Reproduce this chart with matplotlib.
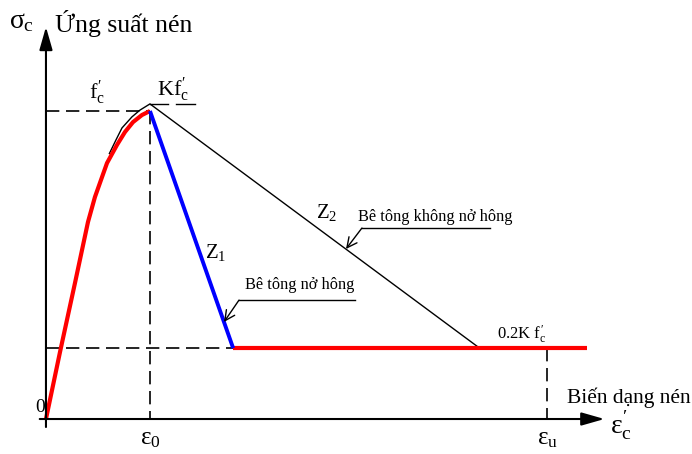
import numpy as np
import matplotlib
matplotlib.use("Agg")
from matplotlib import pyplot as plt

plt.rcParams['font.family'] = ['Liberation Serif', 'DejaVu Serif']
plt.rcParams['mathtext.fontset'] = 'custom'
plt.rcParams['mathtext.rm'] = 'Liberation Serif'
plt.rcParams['mathtext.it'] = 'Liberation Serif'
plt.rcParams['mathtext.bf'] = 'Liberation Serif:bold'

# strain in units of eps0, stress in units of f'c
eps0 = 1.0
eps_u = 4.82
K_peak = 1.023
residual = 0.23

# confined-free ascending branch (red)
asc_eps = [0.0, 0.135, 0.279, 0.404, 0.471, 0.529, 0.587, 0.683, 0.760, 0.837, 0.923, 1.0]
asc_sig = [0.0, 0.2175, 0.4416, 0.6396, 0.7208, 0.776, 0.831, 0.890, 0.932, 0.964, 0.987, 1.0]

# Z1 branch (blue) and residual plateau (red)
z1_eps = [1.0, 1.80]
z1_sig = [1.0, residual]
plateau_eps = [1.80, 5.20]

# unconfined curve reaching K f'c then Z2 descending line (black)
blk_eps = [0.610, 0.673, 0.731, 0.827, 0.904, 0.952, 1.0, 4.17]
blk_sig = [0.862, 0.906, 0.945, 0.981, 1.003, 1.013, K_peak, residual]

fig = plt.figure(figsize=(6.92, 4.54), dpi=100)
ax = fig.add_axes([0, 0, 1, 1])
ax.set_xlim(-0.442, 6.212)
ax.set_ylim(-0.1136, 1.3604)
ax.axis('off')

# axes with arrows
arrow_style = '-|>,head_length=0.7,head_width=0.2'
ax.annotate('', xy=(5.37, 0), xytext=(-0.06, 0),
            arrowprops=dict(arrowstyle=arrow_style, mutation_scale=20, lw=1.5,
                            color='black', shrinkA=0, shrinkB=0))
ax.annotate('', xy=(0, 1.273), xytext=(0, -0.026),
            arrowprops=dict(arrowstyle=arrow_style, mutation_scale=20, lw=1.5,
                            color='black', shrinkA=0, shrinkB=0))

# dashed guides
dash = dict(color='black', lw=1.2, linestyle=(0, (8, 4)))
ax.plot([0, eps0], [1.0, 1.0], **dash)
ax.plot([eps0, eps0], [1.0, 0], **dash)
ax.plot([0, z1_eps[1]], [residual, residual], **dash)
ax.plot([eps_u, eps_u], [residual, 0], **dash)

# curves
ax.plot(blk_eps, blk_sig, color='black', lw=1.0)
ax.plot(asc_eps, asc_sig, color='red', lw=3.0, solid_capstyle='butt', solid_joinstyle='round')
ax.plot(plateau_eps, [residual, residual], color='red', lw=3.0, solid_capstyle='butt')
ax.plot(z1_eps, z1_sig, color='blue', lw=2.8, solid_capstyle='butt')

# short bar under K f'c
ax.plot([1.0, 1.173], [K_peak, K_peak], color='black', lw=1.0)
ax.plot([1.25, 1.433], [K_peak, K_peak], color='black', lw=1.0)

# leader lines with arrows
small_arrow = '->,head_length=0.6,head_width=0.3'
ax.plot([3.038, 4.269], [0.620, 0.620], color='black', lw=1.0)
ax.annotate('', xy=(2.885, 0.552), xytext=(3.038, 0.620),
            arrowprops=dict(arrowstyle=small_arrow, mutation_scale=12, lw=1.0,
                            color='black', shrinkA=0, shrinkB=0))
ax.plot([1.856, 2.971], [0.386, 0.386], color='black', lw=1.0)
ax.annotate('', xy=(1.712, 0.315), xytext=(1.856, 0.386),
            arrowprops=dict(arrowstyle=small_arrow, mutation_scale=12, lw=1.0,
                            color='black', shrinkA=0, shrinkB=0))

# labels
ax.text(-0.231, 1.289, r'$\sigma_c$', fontsize=20, ha='center', va='center')
ax.text(0.087, 1.283, 'Ứng suất nén', fontsize=18.5, ha='left', va='center')
ax.text(0.49, 1.06, r"$f_c^{\prime}$", fontsize=16, ha='center', va='center')
ax.text(1.067, 1.07, r"$Kf_c^{\prime}$", fontsize=16, ha='left', va='center')
ax.text(1.529, 0.54, r'$Z_1$', fontsize=15, ha='left', va='center')
ax.text(2.596, 0.67, r'$Z_2$', fontsize=15, ha='left', va='center')
ax.text(3.0, 0.656, 'Bê tông không nở hông', fontsize=11.8, ha='left', va='center')
ax.text(1.913, 0.435, 'Bê tông nở hông', fontsize=11.8, ha='left', va='center')
ax.text(4.337, 0.275, r"0.2K $f_c^{\prime}$", fontsize=12, ha='left', va='center')
ax.text(-0.058, 0.036, '0', fontsize=14, ha='center', va='center')
ax.text(eps0, -0.065, r'$\epsilon_0$', fontsize=18, ha='center', va='center')
ax.text(eps_u, -0.065, r'$\epsilon_u$', fontsize=18, ha='center', va='center')
ax.text(5.01, 0.068, 'Biến dạng nén', fontsize=15.5, ha='left', va='center')
ax.text(5.42, -0.02, r"$\epsilon_c^{\prime}$", fontsize=20, ha='left', va='center')

fig.savefig('out.png', dpi=100)
